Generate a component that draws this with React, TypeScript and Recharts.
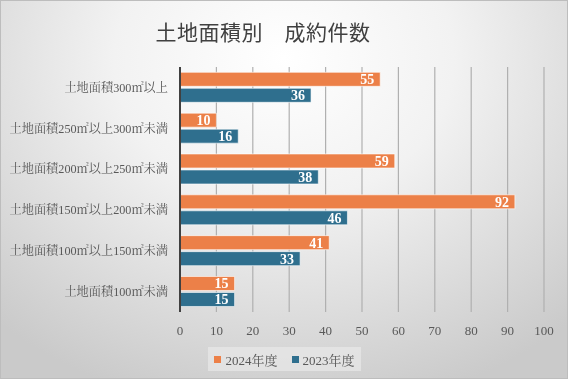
import { BarChart, Bar, XAxis, YAxis, CartesianGrid, LabelList } from 'recharts';

const categories = [
  '土地面積300㎡以上',
  '土地面積250㎡以上300㎡未満',
  '土地面積200㎡以上250㎡未満',
  '土地面積150㎡以上200㎡未満',
  '土地面積100㎡以上150㎡未満',
  '土地面積100㎡未満',
];
const values2024 = [55, 10, 59, 92, 41, 15];
const values2023 = [36, 16, 38, 46, 33, 15];
const xTicks = [0, 10, 20, 30, 40, 50, 60, 70, 80, 90, 100];

const ORANGE = '#EC8048';
const BLUE = '#2F6F8E';
const SERIF = '"Liberation Serif", "Noto Serif CJK JP", "Noto Sans CJK JP", serif';

const data = categories.map((name, i) => ({
  name,
  y2024: values2024[i],
  y2023: values2023[i],
}));

export default function App() {
  return (
    <div
      style={{
        position: 'fixed',
        left: 0,
        top: 0,
        width: 568,
        height: 379,
        boxSizing: 'border-box',
        border: '1px solid #bdbdbd',
        background: 'radial-gradient(ellipse 75% 95% at 50% 15%, #ffffff 0%, #f2f2f2 40%, #cacaca 100%)',
        fontFamily: SERIF,
      }}
    >
      <div
        style={{
          position: 'absolute',
          top: 15,
          left: 152,
          width: 220,
          textAlign: 'center',
          fontSize: 21,
          color: '#404040',
          fontFamily: '"Noto Sans CJK JP", sans-serif',
          letterSpacing: 0.5,
          whiteSpace: 'nowrap',
        }}
      >
        土地面積別　成約件数
      </div>
      <div style={{ position: 'absolute', left: -1, top: -1 }}>
        <BarChart
          width={568}
          height={379}
          data={data}
          layout="vertical"
          margin={{ top: 67, right: 24, bottom: 37, left: 0 }}
          barCategoryGap="13%"
          barGap={2}
        >
          <CartesianGrid horizontal={false} stroke="#b0b0b0" strokeWidth={1.2} />
          <XAxis
            type="number"
            domain={[0, 100]}
            ticks={xTicks}
            axisLine={false}
            tickLine={false}
            height={30}
            tickMargin={8}
            tick={{ fill: '#595959', fontSize: 13, fontFamily: SERIF }}
          />
          <YAxis
            type="category"
            dataKey="name"
            width={180}
            axisLine={{ stroke: '#404040', strokeWidth: 2 }}
            tickLine={false}
            tickMargin={6}
            tick={{ fill: '#595959', fontSize: 12.2, fontFamily: SERIF }}
          />
          <Bar dataKey="y2024" fill={ORANGE} stroke="rgba(255,255,255,0.6)" strokeWidth={1} isAnimationActive={false}>
            <LabelList dataKey="y2024" position="insideRight" offset={6} fill="#ffffff" fontSize={14} fontWeight="bold" fontFamily={SERIF} />
          </Bar>
          <Bar dataKey="y2023" fill={BLUE} stroke="rgba(255,255,255,0.6)" strokeWidth={1} isAnimationActive={false}>
            <LabelList dataKey="y2023" position="insideRight" offset={6} fill="#ffffff" fontSize={14} fontWeight="bold" fontFamily={SERIF} />
          </Bar>
        </BarChart>
      </div>
      <div
        style={{
          position: 'absolute',
          left: 207,
          top: 346,
          width: 153,
          height: 24,
          background: 'rgba(232,232,232,0.7)',
          display: 'flex',
          alignItems: 'center',
          justifyContent: 'center',
          gap: 14,
          fontSize: 13,
          color: '#595959',
        }}
      >
        <span style={{ display: 'flex', alignItems: 'center', gap: 4 }}>
          <span style={{ width: 7, height: 7, background: ORANGE, display: 'inline-block' }} />
          2024年度
        </span>
        <span style={{ display: 'flex', alignItems: 'center', gap: 4 }}>
          <span style={{ width: 7, height: 7, background: BLUE, display: 'inline-block' }} />
          2023年度
        </span>
      </div>
    </div>
  );
}
